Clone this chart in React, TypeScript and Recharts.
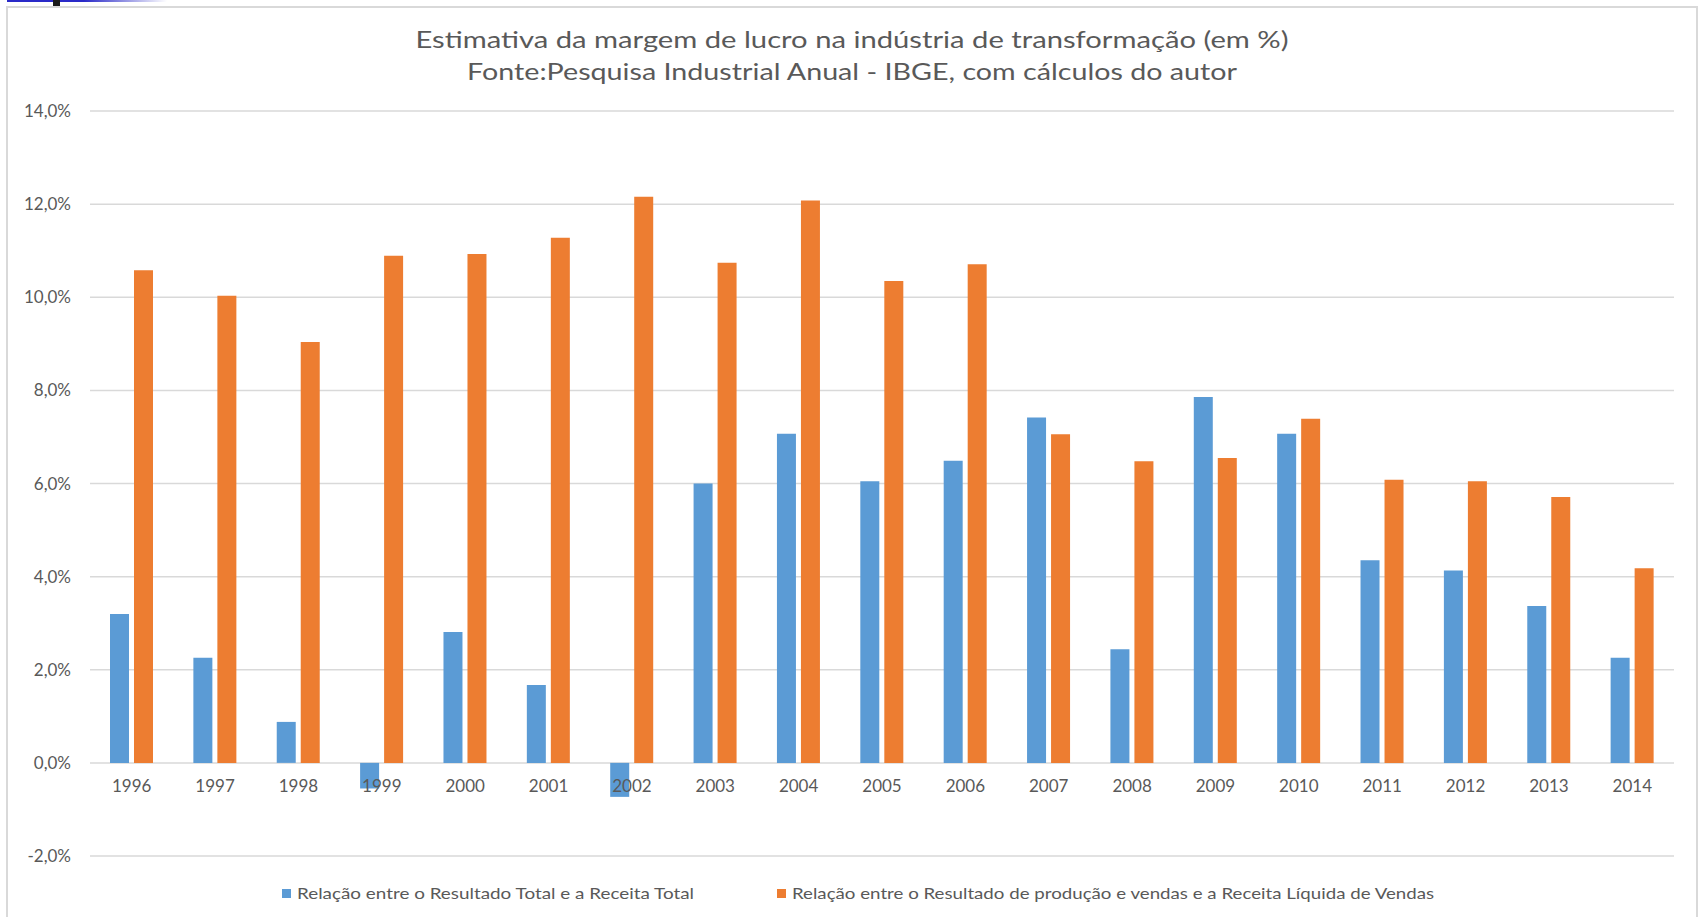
import React from 'react';
import { BarChart, Bar, XAxis, YAxis, CartesianGrid, Legend } from 'recharts';

const years = [
  '1996', '1997', '1998', '1999', '2000', '2001', '2002', '2003', '2004', '2005',
  '2006', '2007', '2008', '2009', '2010', '2011', '2012', '2013', '2014',
];
// Relação entre o Resultado Total e a Receita Total (%)
const totalMargin = [
  3.2, 2.26, 0.88, -0.55, 2.81, 1.67, -0.73, 6.0, 7.07, 6.05,
  6.49, 7.42, 2.44, 7.86, 7.07, 4.35, 4.13, 3.37, 2.26,
];
// Relação entre o Resultado de produção e vendas e a Receita Líquida de Vendas (%)
const salesMargin = [
  10.58, 10.03, 9.04, 10.89, 10.93, 11.28, 12.16, 10.74, 12.08, 10.35,
  10.71, 7.06, 6.48, 6.55, 7.39, 6.08, 6.05, 5.71, 4.18,
];
const yTicks = [-2, 0, 2, 4, 6, 8, 10, 12, 14];
const seriesNames = [
  'Relação entre o Resultado Total e a Receita Total',
  'Relação entre o Resultado de produção e vendas e a Receita Líquida de Vendas',
];
const titleLines = [
  'Estimativa da margem de lucro na indústria de transformação (em %)',
  'Fonte:Pesquisa Industrial Anual - IBGE, com cálculos do autor',
];

const data = years.map((year, i) => ({
  year,
  total: totalMargin[i],
  sales: salesMargin[i],
}));

const W = 1698;
const H = 917;
const MARGIN = { top: 111, right: 24, left: 10, bottom: 0 };
const X_AXIS_H = 25;
const LEGEND_H = 36;
const PLOT_H = H - MARGIN.top - X_AXIS_H - LEGEND_H;
const Y_MIN = -2;
const Y_MAX = 14;

const FONT = 'Lato, "Open Sans", sans-serif';
const TEXT = '#595959';
const BLUE = '#5B9BD5';
const ORANGE = '#ED7D31';
const GRID = '#D9D9D9';

const fmtPct = (v: number) => `${v.toFixed(1).replace('.', ',')}%`;

// Excel draws the category labels just under the zero line, not at the plot bottom
const YearTick = (props: any) => {
  const { x, y, payload } = props;
  const zeroLift = (PLOT_H * (0 - Y_MIN)) / (Y_MAX - Y_MIN);
  return (
    <text
      x={x}
      y={y - zeroLift + 29}
      textAnchor="middle"
      fill={TEXT}
      fontSize={17}
      fontFamily={FONT}
    >
      {payload.value}
    </text>
  );
};

const legendLayout = [
  { sq: 282, tx: 297, len: 397 },
  { sq: 777, tx: 792, len: 642 },
];

const LegendContent = (props: any) => {
  const payload = props.payload || [];
  return (
    <svg width={W} height={LEGEND_H} style={{ display: 'block' }}>
      {payload.map((p: any, i: number) => {
        const l = legendLayout[i];
        return (
          <g key={i}>
            <rect x={l.sq} y={8} width={9} height={9} fill={p.color} />
            <text
              x={l.tx}
              y={18}
              fill={TEXT}
              fontSize={16}
              fontFamily={FONT}
              textLength={l.len}
              lengthAdjust="spacingAndGlyphs"
            >
              {p.value}
            </text>
          </g>
        );
      })}
    </svg>
  );
};

export default function App() {
  return (
    <div
      style={{
        position: 'absolute',
        left: 0,
        top: 0,
        width: W,
        height: H,
        background: '#fff',
        overflow: 'hidden',
      }}
    >
      {/* slide decoration at the top edge */}
      <div
        style={{
          position: 'absolute',
          left: 7,
          top: 0,
          width: 160,
          height: 2,
          background: 'linear-gradient(to right, #2a2ac8 0%, #2a2ac8 48%, rgba(42,42,200,0) 100%)',
        }}
      />
      <div style={{ position: 'absolute', left: 53, top: 0, width: 7, height: 6, background: '#1a1a1a' }} />
      {/* chart frame */}
      <div
        style={{
          position: 'absolute',
          left: 6,
          top: 6,
          width: 1688,
          height: 940,
          border: `2px solid ${GRID}`,
        }}
      />
      <svg width={W} height={100} style={{ position: 'absolute', left: 0, top: 0 }}>
        <text
          x={852}
          y={48}
          textAnchor="middle"
          fill={TEXT}
          fontSize={24}
          fontFamily={FONT}
          textLength={873}
          lengthAdjust="spacingAndGlyphs"
        >
          {titleLines[0]}
        </text>
        <text
          x={852}
          y={80}
          textAnchor="middle"
          fill={TEXT}
          fontSize={24}
          fontFamily={FONT}
          textLength={770}
          lengthAdjust="spacingAndGlyphs"
        >
          {titleLines[1]}
        </text>
      </svg>
      <div style={{ position: 'absolute', left: 0, top: 0 }}>
        <BarChart width={W} height={H} data={data} margin={MARGIN} barGap={5}>
          <CartesianGrid vertical={false} stroke={GRID} strokeWidth={1.5} />
          <XAxis
            dataKey="year"
            height={X_AXIS_H}
            axisLine={false}
            tickLine={false}
            tickSize={0}
            tickMargin={0}
            interval={0}
            tick={<YearTick />}
          />
          <YAxis
            width={80}
            domain={[Y_MIN, Y_MAX]}
            ticks={yTicks}
            allowDataOverflow
            axisLine={false}
            tickLine={false}
            tickSize={0}
            tickMargin={19}
            tickFormatter={fmtPct}
            tick={{ fill: TEXT, fontSize: 17, fontFamily: FONT }}
          />
          <Legend
            verticalAlign="bottom"
            height={LEGEND_H}
            wrapperStyle={{ left: 0 }}
            content={<LegendContent />}
          />
          <Bar dataKey="total" name={seriesNames[0]} fill={BLUE} barSize={19} isAnimationActive={false} />
          <Bar dataKey="sales" name={seriesNames[1]} fill={ORANGE} barSize={19} isAnimationActive={false} />
        </BarChart>
      </div>
    </div>
  );
}
